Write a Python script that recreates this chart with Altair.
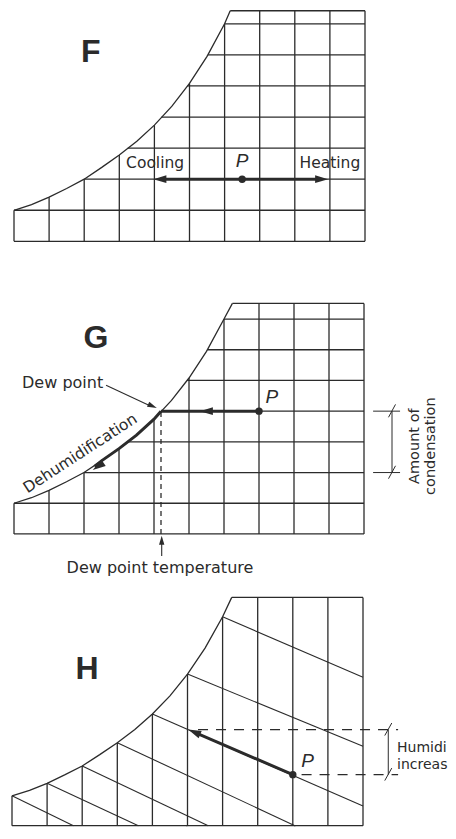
import altair as alt
import pandas as pd

# ---------------- data (column units t, row units h) ----------------
CURVE_T = [0, 0.5, 1, 1.5, 2, 2.5, 3, 3.5, 4, 4.5, 5, 5.5, 6]
CURVE_H = [1.0, 1.18, 1.42, 1.7, 2.0, 2.38, 2.78, 3.22, 3.74, 4.35, 5.08, 5.95, 7.0]
COLS = [0, 1, 2, 3, 4, 5, 6, 7, 8, 9, 10]
ROWS = [0, 1, 2, 3, 4, 5, 6, 7]
ROW_START = [0, 0, 2.0, 3.24, 4.2, 4.94, 5.53, 6.0]

F_TOP = [6.16, 7.42]
G_TOP = [6.24, 7.51]
H_TOP = [6.26, 7.65]

# panel F
F_P = [6.5, 2.0]
F_ARROW_T = [3.97, 8.95]
F_LABELS = ["Cooling", "Heating"]
F_LABEL_T = [4.02, 9.0]
F_LABEL_H = [2.51, 2.51]

# panel G
G_P = [7.0, 4.0]
G_DEW = [4.2, 4.0]
G_MID_ARROW_T = 5.31
G_DEHUM_T = [4.2, 4.0, 3.5, 3.0, 2.5, 2.3]
G_DEHUM_H = [4.0, 3.74, 3.22, 2.78, 2.38, 2.2]
G_DEHUM_TIP = [2.25, 2.08]
G_LEADER = [2.63, 4.84, 4.08, 4.1]
G_BRACKET_H = [2.0, 4.0]

# panel H
H_DIAG_T0 = [0, 1, 2, 3, 4, 5, 6]
H_DIAG_T1 = [1.75, 3.6, 5.59, 8.06, 10, 10, 10]
H_DIAG_H1 = [0, 0, 0, 0, 0.66, 2.66, 4.97]
H_P = [8.0, 1.71]
H_TIP = [5.02, 3.22]
H_BOTTOM_TICKS = [4.98, 8.06]

INK = "#2b2b2b"
ARROW = "M0,0L0.6,2L-0.6,2Z"
SANS = "DejaVu Sans"
HEAD = "Liberation Sans"
GRID_W = 1.3

# layout of the three panels on the page
W = 440
PANEL_H = [266, 300, 252]
SY = 0.998
Y0 = 11.0


def panel_scales(ax, bx, ay, by, off, hp):
    xd = [(8 - ax) / bx, (W + 8 - ax) / bx]
    yd = [(ay - Y0 - (hp + off) / SY) / by, (ay - Y0 - off / SY) / by]
    x = dict(scale=alt.Scale(domain=xd, nice=False, zero=False), axis=None)
    y = dict(scale=alt.Scale(domain=yd, nice=False, zero=False), axis=None)
    return x, y


def curve_h(t):
    return CURVE_H[CURVE_T.index(t)]


def seg_layer(rows, sx, sy, width=GRID_W, dash=None, color=INK):
    df = pd.DataFrame(rows, columns=["x", "y", "x2", "y2"])
    kw = dict(color=color, strokeWidth=width)
    if dash:
        kw["strokeDash"] = dash
    return alt.Chart(df).mark_rule(**kw).encode(
        x=alt.X("x:Q", **sx), y=alt.Y("y:Q", **sy), x2="x2:Q", y2="y2:Q")


def line_layer(ts, hs, sx, sy, width=GRID_W):
    df = pd.DataFrame({"x": ts, "y": hs, "i": list(range(len(ts)))})
    return alt.Chart(df).mark_line(color=INK, strokeWidth=width).encode(
        x=alt.X("x:Q", **sx), y=alt.Y("y:Q", **sy), order="i:Q")


def head_layer(pts, sx, sy, size=169):
    df = pd.DataFrame(pts, columns=["x", "y", "a"])
    return alt.Chart(df).mark_point(shape=ARROW, filled=True, opacity=1,
                                    color=INK, size=size, strokeWidth=0).encode(
        x=alt.X("x:Q", **sx), y=alt.Y("y:Q", **sy),
        angle=alt.Angle("a:Q", scale=None))


def dot_layer(pt, sx, sy):
    df = pd.DataFrame({"x": [pt[0]], "y": [pt[1]]})
    return alt.Chart(df).mark_circle(color=INK, size=55, opacity=1).encode(
        x=alt.X("x:Q", **sx), y=alt.Y("y:Q", **sy))


def text_layer(texts, ts, hs, sx, sy, size=16, font=SANS, angle=0,
               align="center", bold=False, italic=False, limit=None):
    df = pd.DataFrame({"x": ts, "y": hs, "t": texts})
    kw = dict(font=font, fontSize=size, color=INK, align=align,
              baseline="middle", angle=angle)
    if bold:
        kw["fontWeight"] = "bold"
    if italic:
        kw["fontStyle"] = "italic"
    if limit:
        kw["limit"] = limit
        kw["ellipsis"] = "\u200b"
    return alt.Chart(df).mark_text(**kw).encode(
        x=alt.X("x:Q", **sx), y=alt.Y("y:Q", **sy), text="t:N")


def grid(top, rows, sx, sy):
    segs = []
    for t in COLS:
        segs.append((t, 0, t, curve_h(t) if t <= 6 else top[1]))
    for k in rows:
        segs.append((ROW_START[k], k, 10, k))
    segs.append((top[0], top[1], 10, top[1]))
    return [seg_layer(segs, sx, sy),
            line_layer(CURVE_T + [top[0]], CURVE_H + [top[1]], sx, sy)]


# ---------------- panel F ----------------
fx, fy = panel_scales(14, 35.1, 242.8, 31.14, 0, PANEL_H[0])
F = alt.layer(
    *grid(F_TOP, ROWS, fx, fy),
    seg_layer([(F_ARROW_T[0] + 0.2, F_P[1], F_ARROW_T[1] - 0.2, F_P[1])], fx, fy, width=3),
    head_layer([(F_ARROW_T[0], F_P[1], 270), (F_ARROW_T[1], F_P[1], 90)], fx, fy),
    dot_layer(F_P, fx, fy),
    text_layer(F_LABELS, F_LABEL_T, F_LABEL_H, fx, fy, size=15.5),
    text_layer(["P"], [6.5], [2.6], fx, fy, size=19, font=HEAD, italic=True),
    text_layer(["F"], [2.19], [6.09], fx, fy, size=32, font=HEAD, bold=True),
).properties(width=W, height=PANEL_H[0])

# ---------------- panel G ----------------
gx, gy = panel_scales(14, 35.0, 536.0, 30.76, PANEL_H[0], PANEL_H[1])
G = alt.layer(
    *grid(G_TOP, ROWS, gx, gy),
    seg_layer([(G_DEW[0], G_DEW[1], G_P[0], G_P[1])], gx, gy, width=3),
    head_layer([(G_MID_ARROW_T, G_P[1], 270)], gx, gy),
    line_layer(G_DEHUM_T, G_DEHUM_H, gx, gy, width=3),
    head_layer([(G_DEHUM_TIP[0], G_DEHUM_TIP[1], 236)], gx, gy),
    seg_layer([(G_DEW[0], 0, G_DEW[0], G_DEW[1])], gx, gy, width=1.3, dash=[5, 4]),
    seg_layer([(G_LEADER[0], G_LEADER[1], G_LEADER[2] - 0.15, G_LEADER[3] + 0.05)], gx, gy, width=1.1),
    head_layer([(G_LEADER[2], G_LEADER[3], 114)], gx, gy, size=90),
    seg_layer([(4.22, -0.72, 4.22, -0.2)], gx, gy, width=1.1),
    head_layer([(4.22, -0.06, 0)], gx, gy, size=80),
    dot_layer(G_P, gx, gy),
    seg_layer([(10.26, h, 11.03, h) for h in G_BRACKET_H]
              + [(10.8, G_BRACKET_H[0], 10.8, G_BRACKET_H[1])]
              + [(10.7, h - 0.2, 10.9, h + 0.22) for h in G_BRACKET_H], gx, gy, width=1),
    text_layer(["P"], [7.37], [4.45], gx, gy, size=19, font=HEAD, italic=True),
    text_layer(["G"], [2.34], [6.37], gx, gy, size=32, font=HEAD, bold=True),
    text_layer(["Dew point"], [0.23], [4.91], gx, gy, align="left"),
    text_layer(["Dehumidification"], [1.89], [2.63], gx, gy, size=15.5, angle=327),
    text_layer(["Dew point temperature"], [4.17], [-1.105], gx, gy),
    text_layer(["Amount of", "condensation"], [11.46, 11.91], [2.86, 2.86], gx, gy,
               size=14.5, angle=270),
).properties(width=W, height=PANEL_H[1])

# ---------------- panel H ----------------
hx, hy = panel_scales(12, 35.1, 828.3, 29.9, PANEL_H[0] + PANEL_H[1], PANEL_H[2])
h_segs = [(t, 0, t, curve_h(t) if t <= 6 else H_TOP[1]) for t in COLS]
h_segs += [(0, 0, 10, 0), (H_TOP[0], H_TOP[1], 10, H_TOP[1])]
h_diag = [(t0, curve_h(t0), t1, h1) for t0, t1, h1 in zip(H_DIAG_T0, H_DIAG_T1, H_DIAG_H1)]
H = alt.layer(
    seg_layer(h_segs, hx, hy),
    line_layer(CURVE_T + [H_TOP[0]], CURVE_H + [H_TOP[1]], hx, hy),
    seg_layer(h_diag, hx, hy, width=1.1),
    seg_layer([(5.3, H_TIP[1], 11.0, H_TIP[1]), (8.25, H_P[1], 11.0, H_P[1])], hx, hy,
              width=1.1, dash=[10, 8]),
    seg_layer([(10.72, H_P[1], 10.72, H_TIP[1]),
               (10.62, H_P[1] - 0.2, 10.82, H_P[1] + 0.22),
               (10.62, H_TIP[1] - 0.2, 10.82, H_TIP[1] + 0.22)], hx, hy, width=1),
    seg_layer([(t, 0.0, t, -0.02) for t in H_BOTTOM_TICKS], hx, hy, width=1),
    seg_layer([(H_P[0], H_P[1], H_TIP[0] + 0.3, H_TIP[1] - 0.15)], hx, hy, width=3),
    head_layer([(H_TIP[0], H_TIP[1], 293)], hx, hy),
    dot_layer(H_P, hx, hy),
    text_layer(["P"], [8.42], [2.17], hx, hy, size=19, font=HEAD, italic=True),
    text_layer(["H"], [2.14], [5.25], hx, hy, size=32, font=HEAD, bold=True),
    text_layer(["Humidity", "increase"], [10.97, 10.97], [2.61, 2.04], hx, hy,
               size=14, align="left", limit=51),
).properties(width=W, height=PANEL_H[2])

chart = alt.vconcat(F, G, H, spacing=0).properties(
    padding=0, background="white"
).configure_view(stroke=None)

chart.save("out.html", embed_options={"renderer": "svg", "actions": False})
